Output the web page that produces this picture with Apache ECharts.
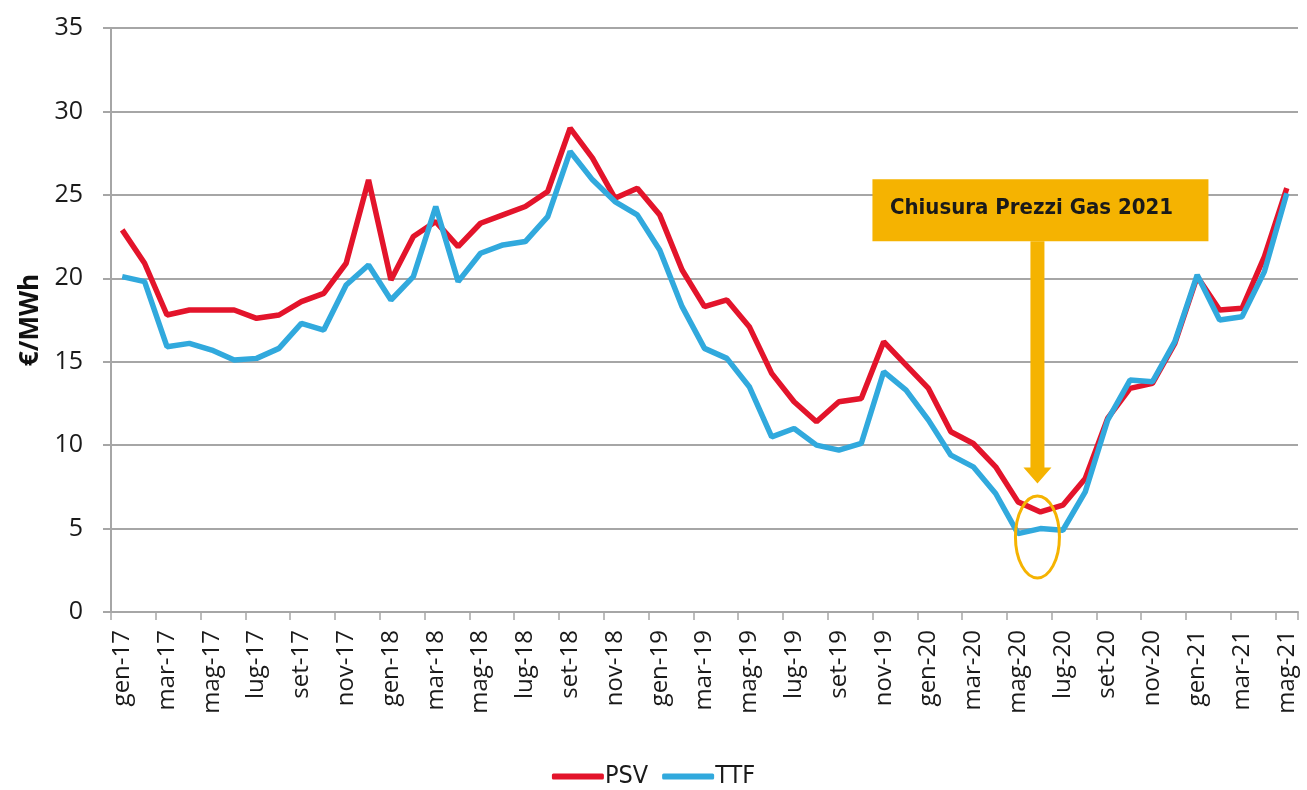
<!DOCTYPE html>
<html>
<head>
<meta charset="utf-8">
<script src="https://cdn.jsdelivr.net/npm/echarts@6/dist/echarts.min.js"></script>
<style>
  html, body { margin: 0; padding: 0; background: #fff; }
  #chart { width: 1307px; height: 790px; }
</style>
</head>
<body>
<div id="chart"></div>
<script>
// mesi da gen-17 a mag-21
const months = ['gen', 'feb', 'mar', 'apr', 'mag', 'giu', 'lug', 'ago', 'set', 'ott', 'nov', 'dic']
const categories = []
for (let y = 17; y <= 21; y++) {
  for (let m = 0; m < 12; m++) {
    if (y === 21 && m > 4) break
    categories.push(months[m] + '-' + y)
  }
}

const psv = [
  22.9, 20.9, 17.8, 18.1, 18.1, 18.1, 17.6, 17.8, 18.6, 19.1, 20.9, 25.9,
  19.9, 22.5, 23.4, 21.9, 23.3, 23.8, 24.3, 25.2, 29.0, 27.2, 24.8, 25.4,
  23.8, 20.5, 18.3, 18.7, 17.1, 14.3, 12.6, 11.4, 12.6, 12.8, 16.2, 14.8,
  13.4, 10.8, 10.1, 8.7, 6.6, 6.0, 6.4, 8.0, 11.6, 13.4, 13.7, 16.1,
  20.1, 18.1, 18.2, 21.3, 25.4
]
const ttf = [
  20.1, 19.8, 15.9, 16.1, 15.7, 15.1, 15.2, 15.8, 17.3, 16.9, 19.6, 20.8,
  18.7, 20.1, 24.3, 19.8, 21.5, 22.0, 22.2, 23.7, 27.6, 25.9, 24.6, 23.8,
  21.7, 18.3, 15.8, 15.2, 13.5, 10.5, 11.0, 10.0, 9.7, 10.1, 14.4, 13.3,
  11.5, 9.4, 8.7, 7.1, 4.7, 5.0, 4.9, 7.2, 11.5, 13.9, 13.8, 16.2,
  20.2, 17.5, 17.7, 20.4, 25.1
]

const noteText = 'Chiusura Prezzi Gas 2021'
const noteMonth = 'giu-20'
const yellow = '#F5B301'

const chart = echarts.init(document.getElementById('chart'))

const option = {
  animation: false,
  backgroundColor: '#fff',
  grid: { left: 111, right: 9, top: 28, bottom: 178 },
  legend: {
    bottom: -4,
    left: 'center',
    itemWidth: 52,
    itemHeight: 6,
    itemGap: 14,
    icon: 'roundRect',
    textStyle: { fontFamily: 'Liberation Sans Narrow, DejaVu Sans Condensed, sans-serif', fontSize: 25, color: '#1a1a1a', padding: [0, 0, 0, -4] },
    data: ['PSV', 'TTF']
  },
  xAxis: {
    type: 'category',
    data: categories,
    boundaryGap: true,
    axisLine: { lineStyle: { color: '#a6a6a6', width: 2 } },
    axisTick: { show: true, interval: 1, length: 8, lineStyle: { color: '#a6a6a6', width: 1.5 } },
    axisLabel: {
      interval: 1,
      rotate: 90,
      margin: 18,
      color: '#1a1a1a',
      fontSize: 24,
      fontFamily: 'Open Sans, sans-serif'
    }
  },
  yAxis: {
    type: 'value',
    min: 0,
    max: 35,
    interval: 5,
    name: '€/MWh',
    nameLocation: 'middle',
    nameGap: 66,
    nameTextStyle: { fontSize: 26, fontWeight: 'bold', color: '#111', fontFamily: 'Open Sans, sans-serif' },
    axisLine: { show: true, lineStyle: { color: '#a6a6a6', width: 2 } },
    axisTick: { show: true, length: 8, lineStyle: { color: '#a6a6a6', width: 2 } },
    axisLabel: { color: '#1a1a1a', fontSize: 25, margin: 28, fontFamily: 'Open Sans, sans-serif' },
    splitLine: { lineStyle: { color: '#a6a6a6', width: 2 } }
  },
  series: [
    {
      name: 'PSV',
      type: 'line',
      data: psv,
      symbol: 'none',
      lineStyle: { color: '#E3142B', width: 5.5 },
      itemStyle: { color: '#E3142B' },
      z: 2
    },
    {
      name: 'TTF',
      type: 'line',
      data: ttf,
      symbol: 'none',
      lineStyle: { color: '#31A9DD', width: 5.5 },
      itemStyle: { color: '#31A9DD' },
      z: 3
    }
  ]
}
chart.setOption(option)

// annotazione: box giallo, freccia e cerchio sul minimo
const idx = categories.indexOf(noteMonth)
const cx = chart.convertToPixel({ xAxisIndex: 0 }, noteMonth) - 3
const boxY = chart.convertToPixel({ yAxisIndex: 0 }, 26)
const tipY = chart.convertToPixel({ yAxisIndex: 0 }, (psv[idx] + 1.7))
const ecy = chart.convertToPixel({ yAxisIndex: 0 }, ttf[idx] - 0.5)

chart.setOption({
  graphic: [
    {
      type: 'rect',
      shape: { x: cx - 165, y: boxY + 1, width: 336, height: 62 },
      style: { fill: yellow },
      z: 100
    },
    {
      type: 'text',
      x: cx - 6,
      y: boxY + 30,
      style: {
        text: noteText,
        fill: '#1a1a1a',
        font: 'bold 22px "Liberation Sans Narrow", "DejaVu Sans Condensed", sans-serif',
        align: 'center',
        verticalAlign: 'middle'
      },
      z: 101
    },
    {
      type: 'polygon',
      shape: {
        points: [
          [cx - 7, boxY + 63], [cx + 7, boxY + 63], [cx + 7, tipY - 16],
          [cx + 14, tipY - 16], [cx, tipY], [cx - 14, tipY - 16], [cx - 7, tipY - 16]
        ]
      },
      style: { fill: yellow },
      z: 100
    },
    {
      type: 'ellipse',
      shape: { cx: cx, cy: ecy, rx: 22, ry: 41 },
      style: { fill: 'none', stroke: yellow, lineWidth: 3 },
      z: 100
    }
  ]
})
</script>
</body>
</html>
